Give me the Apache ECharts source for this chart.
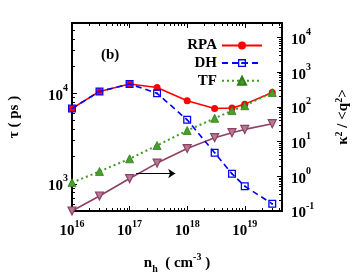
<!DOCTYPE html>
<html>
<head>
<meta charset="utf-8">
<script src="https://cdn.jsdelivr.net/npm/echarts@6/dist/echarts.min.js"></script>
<style>
html,body{margin:0;padding:0;background:#fff;}
#c{width:357px;height:273px;}
</style>
</head>
<body>
<div id="c"></div>
<script>
// ---- data ----
const density = [1e16, 3e16, 1e17, 3e17, 1e18, 3e18, 6e18, 1e19, 3e19];
const rpa   = [6800, 10500, 12700, 11600, 8300, 6800, 6900, 7600, 10200];
const dh    = [6800, 10500, 12700, 10000, 5100, 2200, 1290, 940, 600];
const tf    = [1030, 1370, 1890, 2650, 3880, 5300, 6450, 7300, 10200];
const kappa = [0.1, 0.27, 0.86, 2.4, 6.3, 12.9, 18, 22.4, 32.7];
const arrowFrom = [1.3e17, 1.2];
const arrowTo   = [6.2e17, 1.2];

// axis extents and tick exponents
const xMin = 1e16, xMax = 4.43e19;
const yLeftMin = 500, yLeftMax = 6e4;
const yRightMin = 0.1, yRightMax = 2.6e4;
const xTickExp = [16, 17, 18, 19];
const leftTickExp = [3, 4];
const rightTickExp = [-1, 0, 1, 2, 3, 4];

const L = Math.log10;
function minors(lo, hi) {
  const out = [];
  for (let n = Math.floor(lo) - 1; n <= Math.ceil(hi); n++) {
    for (let k = 2; k <= 9; k++) {
      const v = n + L(k);
      if (v > lo + 1e-9 && v < hi - 1e-9) out.push(v);
    }
  }
  return out;
}
const FONT = 'Liberation Serif';
const rich = {
  b: {fontFamily: FONT, fontWeight: 'bold', fontSize: 15, color: '#000', lineHeight: 20, verticalAlign: 'bottom'},
  s: {fontFamily: FONT, fontWeight: 'bold', fontSize: 10, color: '#000', lineHeight: 20, verticalAlign: 'top'}
};
const powFmt = v => '{b|10}{s|' + Math.round(v) + '}';
const BLACK = '#000';

function tickAxis(base, values, len, labels, extra) {
  return Object.assign({
    type: 'value', min: base.min, max: base.max, position: base.position,
    gridIndex: 0,
    axisLine: {show: !!base.line, onZero: false, lineStyle: {color: BLACK, width: 2}},
    axisTick: {show: true, inside: true, length: len, customValues: values, lineStyle: {color: BLACK, width: 1}},
    axisLabel: labels ? {show: true, customValues: labels, formatter: powFmt, rich: rich, margin: base.margin} : {show: false},
    splitLine: {show: false}, minorTick: {show: false}
  }, extra || {});
}

const xlo = L(xMin), xhi = L(xMax);
const ylo = L(yLeftMin), yhi = L(yLeftMax);
const rlo = L(yRightMin), rhi = L(yRightMax);

const option = {
  animation: false,
  backgroundColor: '#fff',
  grid: {left: 72, right: 75, top: 23, bottom: 62, containLabel: false, outerBoundsMode: 'none'},
  title: {text: '(b)', left: 101, top: 48, padding: 0,
    textStyle: {fontFamily: FONT, fontWeight: 'bold', fontSize: 15, color: '#000'}},
  legend: {
    data: ['RPA', 'DH', 'TF'], orient: 'vertical', left: 179, top: 38, padding: 0,
    align: 'right', itemWidth: 40, itemHeight: 10, itemGap: 2.6,
    textStyle: {fontFamily: FONT, fontWeight: 'bold', fontSize: 15, color: '#000', width: 38, align: 'center', lineHeight: 12}
  },
  xAxis: [
    {type: 'log', min: xMin, max: xMax, position: 'bottom',
      axisLine: {show: true, onZero: false, lineStyle: {color: BLACK, width: 2}},
      axisTick: {show: false}, axisLabel: {show: false}, splitLine: {show: false}, minorTick: {show: false},
      name: '{b|n}{sub|h}{b|  ( cm}{sup|-3}{b| )}', nameLocation: 'middle', nameGap: 41,
      nameTextStyle: {rich: {
        b: {fontFamily: FONT, fontWeight: 'bold', fontSize: 15, color: '#000', lineHeight: 22, verticalAlign: 'middle'},
        sub: {fontFamily: FONT, fontWeight: 'bold', fontSize: 10, color: '#000', lineHeight: 22, verticalAlign: 'bottom'},
        sup: {fontFamily: FONT, fontWeight: 'bold', fontSize: 10, color: '#000', lineHeight: 22, verticalAlign: 'top'}
      }}},
    tickAxis({min: xlo, max: xhi, position: 'bottom', margin: 8}, xTickExp, 5, xTickExp),
    tickAxis({min: xlo, max: xhi, position: 'bottom'}, minors(xlo, xhi), 3, null),
    tickAxis({min: xlo, max: xhi, position: 'top', line: true}, xTickExp, 5, null),
    tickAxis({min: xlo, max: xhi, position: 'top'}, minors(xlo, xhi), 3, null)
  ],
  yAxis: [
    {type: 'log', min: yLeftMin, max: yLeftMax, position: 'left',
      axisLine: {show: true, onZero: false, lineStyle: {color: BLACK, width: 2}},
      axisTick: {show: false}, axisLabel: {show: false}, splitLine: {show: false}, minorTick: {show: false},
      name: 'τ ( ps )', nameLocation: 'middle', nameGap: 50, nameRotate: 90,
      nameTextStyle: {fontFamily: FONT, fontWeight: 'bold', fontSize: 15, color: '#000'}},
    {type: 'log', min: yRightMin, max: yRightMax, position: 'right',
      axisLine: {show: true, onZero: false, lineStyle: {color: BLACK, width: 2}},
      axisTick: {show: false}, axisLabel: {show: false}, splitLine: {show: false}, minorTick: {show: false},
      name: 'κ{s|2} / <q{s|2}>', nameLocation: 'middle', nameGap: 52, nameRotate: 90,
      nameTextStyle: {fontFamily: FONT, fontWeight: 'bold', fontSize: 15, color: '#000', rich: {
        s: {fontFamily: FONT, fontWeight: 'bold', fontSize: 10, color: '#000', verticalAlign: 'top', lineHeight: 18}
      }}},
    tickAxis({min: ylo, max: yhi, position: 'left', margin: 4}, leftTickExp, 5, leftTickExp),
    tickAxis({min: ylo, max: yhi, position: 'left'}, minors(ylo, yhi), 3, null),
    tickAxis({min: rlo, max: rhi, position: 'right', margin: 9}, rightTickExp, 5, rightTickExp),
    tickAxis({min: rlo, max: rhi, position: 'right'}, minors(rlo, rhi), 3, null)
  ],
  series: [
    {name: 'RPA', type: 'line', xAxisIndex: 0, yAxisIndex: 0, z: 3,
      data: density.map((x, i) => [x, rpa[i]]),
      symbol: 'circle', symbolSize: 7,
      lineStyle: {color: '#ff0000', width: 1.6}, itemStyle: {color: '#ff0000'}},
    {name: 'DH', type: 'line', xAxisIndex: 0, yAxisIndex: 0, z: 4,
      data: density.map((x, i) => [x, dh[i]]),
      symbol: 'path://M0,0H10V10H0Z M1.6,1.6V8.4H8.4V1.6Z M4,4H6V6H4Z', symbolSize: 8,
      lineStyle: {color: '#0000ff', width: 1.6, type: [6, 4]}, itemStyle: {color: '#0000ff'}},
    {name: 'TF', type: 'line', xAxisIndex: 0, yAxisIndex: 0, z: 3,
      data: density.map((x, i) => [x, tf[i]]),
      symbol: 'triangle', symbolSize: 8,
      lineStyle: {color: '#3f9b24', width: 2, type: [2, 3]}, itemStyle: {color: '#4a9e2a', borderColor: '#2f7d18', borderWidth: 0.8}},
    {name: 'kappa', type: 'line', xAxisIndex: 0, yAxisIndex: 1, z: 3,
      data: density.map((x, i) => [x, kappa[i]]),
      symbol: 'triangle', symbolRotate: 180, symbolSize: 8,
      lineStyle: {color: '#8e4162', width: 1.6}, itemStyle: {color: '#b57a93', borderColor: '#8e4162', borderWidth: 1.2},
      markLine: {silent: true, symbol: ['none', 'arrow'], symbolSize: 7, label: {show: false},
        lineStyle: {color: '#000', width: 1, type: 'solid'},
        emphasis: {disabled: true},
        data: [[{coord: arrowFrom}, {coord: arrowTo}]]}}
  ]
};
const chart = echarts.init(document.getElementById('c'), null, {renderer: 'canvas'});
chart.setOption(option);
</script>
</body>
</html>
